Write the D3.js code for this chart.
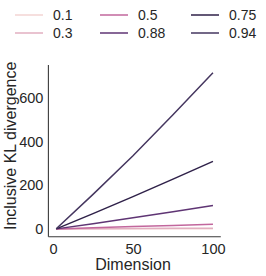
<!DOCTYPE html>
<html>
<head>
<meta charset="utf-8">
<script src="https://cdn.jsdelivr.net/npm/d3@7/dist/d3.min.js"></script>
<style>
  body { margin: 0; background: #fff; }
  text { font-family: "Liberation Sans", Arial, sans-serif; fill: #262626; }
</style>
</head>
<body>
<svg class="chart"></svg>
<script>
// values
var dims = [2, 25, 50, 75, 100];
var labels = ["0.1", "0.3", "0.5", "0.88", "0.75", "0.94"];
var colors = ["#f3d4d3", "#e2afc0", "#c2679d", "#5f3574", "#2f2149", "#45365f"];
var kl = [
    [0.0, 0.1, 0.3, 0.4, 0.5],
    [0.0, 0.8, 1.6, 2.4, 3.2],
    [0.0, 5, 10.5, 16, 21.5],
    [0.1, 24, 51, 79, 107],
    [0.3, 70, 148, 228, 309],
    [0.5, 158, 335, 523, 715]
];
var xTicks = [0, 50, 100];
var yTicks = [0, 200, 400, 600];

(function show() {
    'use strict';

    var W = 266, H = 276;
    var margin = {top: 65, right: 45.2, bottom: 39.3, left: 48.4},
        width = W - margin.left - margin.right,
        height = H - margin.top - margin.bottom;

    var svg = d3.select(".chart").attr("width", W).attr("height", H);
    var chart = svg.append("g")
        .attr("transform", "translate(" + margin.left + "," + margin.top + ")");

    // matplotlib-like 5% padding
    function pad(ext) {
        var r = ext[1] - ext[0];
        return [ext[0] - 0.05 * r, ext[1] + 0.05 * r];
    }
    var x = d3.scaleLinear().domain(pad(d3.extent(dims))).range([0, width]);
    var y = d3.scaleLinear().domain(pad(d3.extent(d3.merge(kl)))).range([height, 0]);

    // spines
    chart.append("line").attr("x1", 0).attr("x2", 0).attr("y1", 0).attr("y2", height)
        .attr("stroke", "#3a3a3a").attr("stroke-width", 1.1);
    chart.append("line").attr("x1", 0).attr("x2", width).attr("y1", height).attr("y2", height)
        .attr("stroke", "#3a3a3a").attr("stroke-width", 1.1);

    var xAxis = chart.append("g").attr("transform", "translate(0," + height + ")")
        .call(d3.axisBottom(x).tickValues(xTicks).tickSize(0).tickPadding(7));
    var yAxis = chart.append("g")
        .call(d3.axisLeft(y).tickValues(yTicks).tickSize(0).tickPadding(5));
    [xAxis, yAxis].forEach(function(a) {
        a.select(".domain").remove();
        a.selectAll("text").attr("font-size", 14.5).attr("fill", "#262626")
            .attr("font-family", '"Liberation Sans", Arial, sans-serif');
    });

    // lines
    var line = d3.line().x(function(d, i) { return x(dims[i]); }).y(function(d) { return y(d); });
    chart.selectAll(".series").data(kl).enter().append("path")
        .attr("class", "series")
        .attr("d", line)
        .attr("fill", "none")
        .attr("stroke", function(d, i) { return colors[i]; })
        .attr("stroke-width", 1.5);

    // axis labels
    svg.append("text").attr("x", margin.left + x(50)).attr("y", 270)
        .attr("text-anchor", "middle").attr("font-size", 16).text("Dimension");
    svg.append("text").attr("transform", "translate(16," + (margin.top + height / 2 - 5) + ") rotate(-90)")
        .attr("text-anchor", "middle").attr("font-size", 16).text("Inclusive KL divergence");

    // legend, 3 columns filled column-wise
    var legend = svg.append("g");
    var colX = [15, 100, 191], rowY = [15, 33];
    labels.forEach(function(lab, i) {
        var c = Math.floor(i / 2), r = i % 2;
        legend.append("line")
            .attr("x1", colX[c]).attr("x2", colX[c] + 28)
            .attr("y1", rowY[r]).attr("y2", rowY[r])
            .attr("stroke", colors[i]).attr("stroke-width", 1.5);
        legend.append("text")
            .attr("x", colX[c] + 38).attr("y", rowY[r])
            .attr("dy", "0.35em").attr("font-size", 14).text(lab);
    });
})();
</script>
</body>
</html>
